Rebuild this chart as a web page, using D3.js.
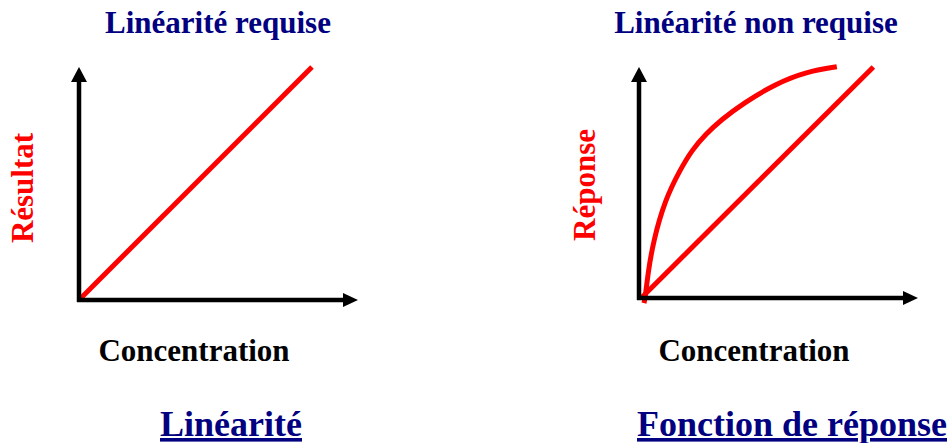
<!DOCTYPE html>
<html lang="fr">
<head>
<meta charset="UTF-8">
<title>Linéarité / Fonction de réponse</title>
<script src="https://d3js.org/d3.v7.min.js"></script>
<style>
    body { margin: 0; background: #fff; }
    text { font-family: "Liberation Serif", "Times New Roman", serif; font-weight: bold; }
</style>
</head>
<body>
<div id="chart"></div>
<script>
    // panel titles, axis labels and captions
    const titles = ["Linéarité requise", "Linéarité non requise"];
    const yLabels = ["Résultat", "Réponse"];
    const xLabels = ["Concentration", "Concentration"];
    const captions = ["Linéarité", "Fonction de réponse"];

    // series (x, y in 0..100 of the axis length)
    const linearLeft = [[0, 0], [83.5, 100]];
    const linearRight = [[0.8, 0], [84, 100]];
    const responseCurve = [
        [1.8, -2.2], [2.2, -0.1], [3.3, 11.4], [5.1, 24.4], [9.3, 42.4],
        [14.7, 55.4], [19.0, 64.1], [24.0, 71.0], [29.4, 77.1], [37.4, 84.3],
        [48.7, 92.6], [60.1, 98.0], [70.9, 100.1]
    ];

    const W = 951, H = 443;
    const svg = d3.select("#chart").append("svg")
        .attr("width", W).attr("height", H);

    const panels = [
        { ox: 79, oy: 300, top: 67, right: 358, title: 218, ylab: 33, ylabY: 188, xlab: 194, cap: 231,
          series: [linearLeft] },
        { ox: 639, oy: 298, top: 67, right: 918, title: 756, ylab: 595, ylabY: 185, xlab: 754, cap: 792,
          series: [responseCurve, linearRight] }
    ];

    panels.forEach(function (p, i) {
        const x = d3.scaleLinear().domain([0, 100]).range([p.ox, p.right]);
        const y = d3.scaleLinear().domain([0, 100]).range([p.oy, p.top]);
        const g = svg.append("g");

        // red series (smoothed through the read-off points)
        const line = d3.line()
            .x(d => x(d[0]))
            .y(d => y(d[1]))
            .curve(d3.curveBasis);
        p.series.forEach(function (s) {
            g.append("path")
                .datum(s)
                .attr("d", line)
                .attr("fill", "none")
                .attr("stroke", "#ff0000")
                .attr("stroke-width", 5);
        });

        // axes with arrowheads
        g.append("line")
            .attr("x1", p.ox).attr("y1", p.oy + 2)
            .attr("x2", p.ox).attr("y2", p.top + 12)
            .attr("stroke", "#000").attr("stroke-width", 4.5);
        g.append("path")
            .attr("d", `M${p.ox - 8},${p.top + 15}L${p.ox},${p.top}L${p.ox + 8},${p.top + 15}Z`)
            .attr("fill", "#000");
        g.append("line")
            .attr("x1", p.ox - 2).attr("y1", p.oy)
            .attr("x2", p.right - 12).attr("y2", p.oy)
            .attr("stroke", "#000").attr("stroke-width", 4.5);
        g.append("path")
            .attr("d", `M${p.right - 15},${p.oy - 7}L${p.right},${p.oy}L${p.right - 15},${p.oy + 7}Z`)
            .attr("fill", "#000");

        // texts
        g.append("text")
            .attr("x", p.title).attr("y", 33)
            .attr("text-anchor", "middle")
            .attr("fill", "#000080")
            .style("font-size", "31px")
            .text(titles[i]);

        g.append("text")
            .attr("transform", `translate(${p.ylab},${p.ylabY}) rotate(-90)`)
            .attr("text-anchor", "middle")
            .attr("fill", "#ff0000")
            .style("font-size", "31px")
            .text(yLabels[i]);

        g.append("text")
            .attr("x", p.xlab).attr("y", 361)
            .attr("text-anchor", "middle")
            .attr("fill", "#000")
            .style("font-size", "31px")
            .text(xLabels[i]);

        g.append("text")
            .attr("x", p.cap).attr("y", 436)
            .attr("text-anchor", "middle")
            .attr("fill", "#000080")
            .style("font-size", "36px")
            .style("text-decoration", "underline")
            .text(captions[i]);
    });
</script>
</body>
</html>
